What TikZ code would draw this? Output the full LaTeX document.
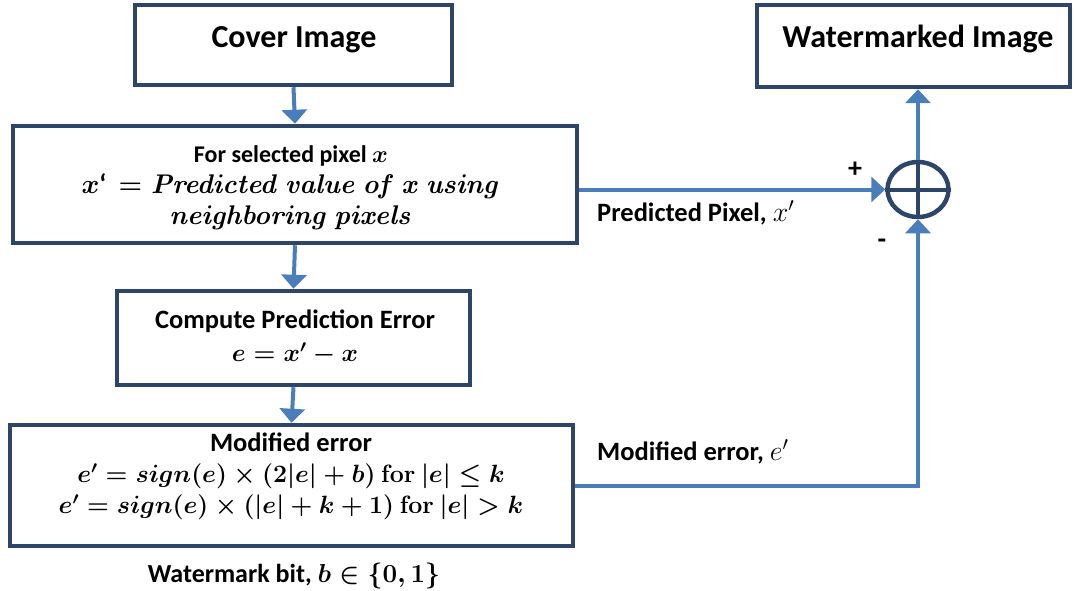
\RequirePackage{fix-cm}
\documentclass[tikz,border=0pt]{standalone}
\usepackage{amsmath}
\usepackage[no-math]{fontspec}
\newfontfamily\calib{Carlito}
\usetikzlibrary{arrows.meta,shapes.geometric}
\definecolor{boxnavy}{HTML}{2C4568}
\definecolor{flowblue}{HTML}{4A7EBB}
\tikzset{
  box/.style={draw=boxnavy, line width=4.5pt, fill=white, inner sep=0pt, align=center},
  txt/.style={inner sep=0pt, align=center},
  flow/.style={draw=flowblue, line width=4pt, -{Triangle[width=25pt,length=14pt]}},
}
\begin{document}
\begin{tikzpicture}[x=1pt,y=-1pt]
\useasboundingbox (0,0) rectangle (1076,591);

% processing boxes
\node[box, minimum width=317pt, minimum height=80pt] (cover) at (293.5,45) {};
\node[txt, font=\calib\bfseries\fontsize{32}{38}\selectfont] (covert) at (294,40) {Cover Image};

\node[box, minimum width=313pt, minimum height=82pt] (wm) at (913.5,46) {};
\node[txt, font=\calib\bfseries\fontsize{32}{38}\selectfont] (wmt) at (918,39) {Watermarked Image};

\node[box, minimum width=564pt, minimum height=117pt] (pred) at (295,184.5) {};
\node[txt, font=\calib\bfseries\boldmath\fontsize{24}{30}\selectfont] (predt) at (291,188)
  {For selected pixel $x$\\[1pt]
   {\fontsize{27}{30}\selectfont $x$\textquoteleft\ \ $= \mathit{Predicted\ value\ of\ x\ using}$}\\[1pt]
   {\fontsize{27}{30}\selectfont $\mathit{neighboring\ pixels}$}};

\node[box, minimum width=353pt, minimum height=94pt] (err) at (293.5,338) {};
\node[txt, font=\calib\bfseries\boldmath\fontsize{26.5}{32}\selectfont] (errt) at (295,337)
  {Compute Prediction Error\\[1pt]
   {\fontsize{25}{32}\selectfont $e = x^{\prime} - x$}};

\node[box, minimum width=563pt, minimum height=121pt] (mod) at (291.5,485.5) {};
\node[txt, font=\calib\bfseries\boldmath\fontsize{26.5}{32}\selectfont] (modt) at (291,476)
  {Modified error\\[-1pt]
   {\fontsize{25}{32}\selectfont $e^{\prime} = sign(e) \times (\mathbf{2}|e| + b)\ \mathbf{for}\ |e| \leq k$}\\[-1pt]
   {\fontsize{25}{32}\selectfont $e^{\prime} = sign(e) \times (|e| + k + \mathbf{1})\ \mathbf{for}\ |e| > k$}};

% summing junction
\node[draw=boxnavy, line width=4.5pt, ellipse, minimum width=61pt, minimum height=55pt, inner sep=0pt] (sum) at (918,189.5) {};
\draw[boxnavy, line width=4pt] (sum.north) -- (sum.south) (sum.west) -- (sum.east);

% connectors
\draw[flow] (cover.south) -- (pred.north);
\draw[flow] (pred.south) -- (err.north);
\draw[flow] (err.south) -- (mod.north);
\draw[flow] (pred.east |- sum) -- (sum.west);
\draw[flow] (sum.north) -- (sum.north |- wm.south);
\draw[flow] (mod.east) -| (sum.south);

% labels
\node[txt, font=\calib\bfseries\fontsize{28}{30}\selectfont] (plus) at (855,170) {+};
\node[txt, font=\calib\bfseries\fontsize{28}{30}\selectfont] (minus) at (882,244) {-};
\node[txt, anchor=west, font=\calib\bfseries\fontsize{26.5}{30}\selectfont] (predlbl) at (597,213) {Predicted Pixel, {\fontsize{28}{30}\selectfont$x^{\prime}$}};
\node[txt, anchor=west, font=\calib\bfseries\fontsize{26.5}{30}\selectfont] (modlbl) at (597,452) {Modified error, {\fontsize{28}{30}\selectfont$e^{\prime}$}};
\node[txt, font=\calib\bfseries\boldmath\fontsize{26}{30}\selectfont] (bitlbl) at (294,576) {Watermark bit, {\fontsize{26}{30}\selectfont$b \in \{\mathbf{0}, \mathbf{1}\}$}};
\end{tikzpicture}
\end{document}
